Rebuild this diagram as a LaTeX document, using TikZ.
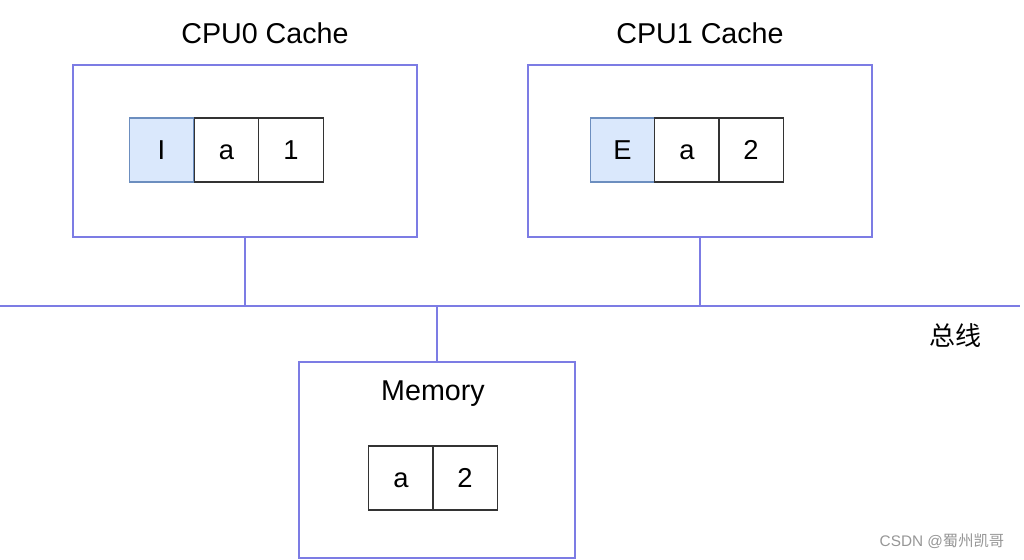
\documentclass[tikz,border=0pt]{standalone}
\usepackage{fontspec}
\setmainfont{Liberation Sans}
\newfontfamily\cjk{Noto Sans CJK SC}
\definecolor{boxblue}{RGB}{124,124,228}
\definecolor{cellfill}{RGB}{218,232,252}
\definecolor{cellline}{RGB}{108,142,191}
\definecolor{wmgray}{RGB}{150,150,150}
\tikzset{
  outer/.style={draw=boxblue, line width=1.3pt, minimum width=#1, minimum height=129pt, inner sep=0pt},
  cell/.style={draw=black!80, line width=1pt, minimum width=48.4pt, minimum height=48pt, inner sep=0pt, text height=14.7pt, text depth=0pt, font=\fontsize{20.5}{24}\selectfont},
  statecell/.style={cell, fill=cellfill, draw=cellline},
  title/.style={font=\fontsize{21.5}{26}\selectfont, inner sep=0pt},
  bus/.style={draw=boxblue, line width=1.4pt}
}
\begin{document}
\begin{tikzpicture}[x=0.75pt,y=-0.75pt]
\useasboundingbox (0,0) rectangle (1024,560);
% cache boxes
\node[outer=258pt] (cpu0) at (245,151) {};
\node[outer=258pt] (cpu1) at (700,151) {};
\node[outer=207pt, minimum height=147pt] (mem) at (437,460) {};
% titles
\node[title] (t0) at (265,33) {CPU0 Cache};
\node[title] (t1) at (700,33) {CPU1 Cache};
\node[title] (tm) at (433,394) {Memory};
% cells
\node[statecell] (c0s) at (161.5,150) {I};
\node[cell] (c0a) at (226.5,150) {a};
\node[cell] (c0v) at (291,150) {1};
\node[statecell] (c1s) at (622.5,150) {E};
\node[cell] (c1a) at (687,150) {a};
\node[cell] (c1v) at (751,150) {2};
\node[cell] (ma) at (401,478) {a};
\node[cell] (mv) at (465,478) {2};
% bus
\coordinate (busL) at (0,306);
\coordinate (busR) at (1020,306);
\draw[bus] (busL) -- (busR);
\draw[bus] (cpu0.south) -- (cpu0.south |- busL);
\draw[bus] (cpu1.south) -- (cpu1.south |- busL);
\draw[bus] (mem.north) -- (mem.north |- busL);
\node[font=\cjk\fontsize{19.5}{23}\selectfont, inner sep=0pt] (buslabel) at (955,336) {总线};
% watermark
\node[font=\fontsize{11.5}{13}\selectfont, text=wmgray, inner sep=0pt] (wm) at (942,541) {CSDN @{\cjk 蜀州凯哥}};
\end{tikzpicture}
\end{document}
